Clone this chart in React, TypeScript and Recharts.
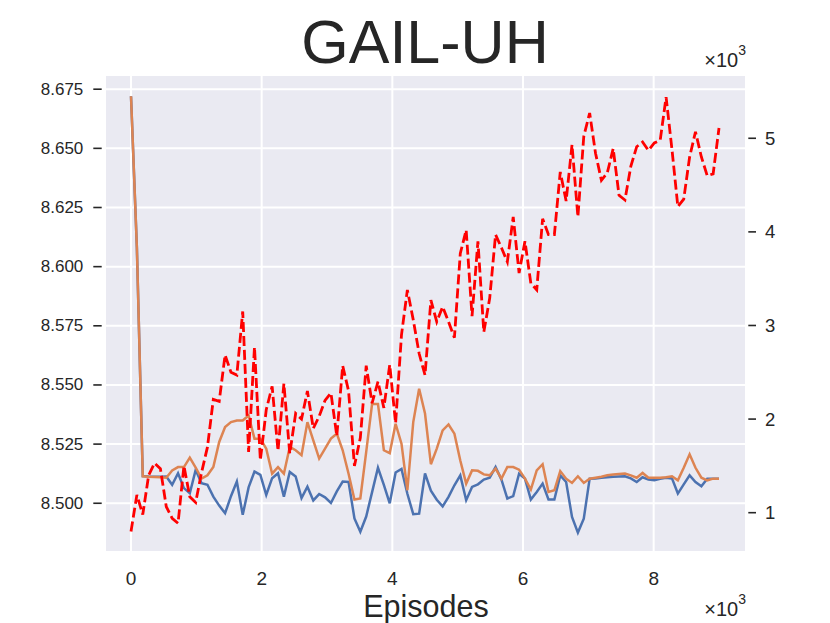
import { LineChart, Line, XAxis, YAxis, CartesianGrid } from 'recharts';

const episodes = [
  0, 90, 180, 270, 360, 450, 540, 630, 720, 810,
  900, 990, 1080, 1170, 1260, 1350, 1440, 1530, 1620, 1710,
  1800, 1890, 1980, 2070, 2160, 2250, 2340, 2430, 2520, 2610,
  2700, 2790, 2880, 2970, 3060, 3150, 3240, 3330, 3420, 3510,
  3600, 3690, 3780, 3870, 3960, 4050, 4140, 4230, 4320, 4410,
  4500, 4590, 4680, 4770, 4860, 4950, 5040, 5130, 5220, 5310,
  5400, 5490, 5580, 5670, 5760, 5850, 5940, 6030, 6120, 6210,
  6300, 6390, 6480, 6570, 6660, 6750, 6840, 6930, 7020, 7110,
  7200, 7290, 7380, 7470, 7560, 7650, 7740, 7830, 7920, 8010,
  8100, 8190, 8280, 8370, 8460, 8550, 8640, 8730, 8820, 8910,
  9000,
];

// left axis
const blueLoss = [
  8.672, 8.608, 8.5115, 8.5113, 8.5112, 8.5112, 8.5113, 8.5078, 8.5127, 8.5064,
  8.5042, 8.5141, 8.5085, 8.5078, 8.5028, 8.499, 8.4958, 8.503, 8.5092, 8.4951,
  8.5067, 8.5134, 8.512, 8.5035, 8.5106, 8.5127, 8.5028, 8.5132, 8.5113, 8.5022,
  8.507, 8.5012, 8.5039, 8.5025, 8.5001, 8.505, 8.5092, 8.509, 8.4936, 8.488,
  8.4944, 8.5047, 8.515, 8.5078, 8.5, 8.513, 8.5145, 8.504, 8.4954, 8.4956,
  8.5126, 8.5053, 8.5015, 8.4987, 8.5027, 8.5076, 8.5118, 8.5013, 8.5069, 8.508,
  8.51, 8.5108, 8.5153, 8.51, 8.502, 8.503, 8.5125, 8.5104, 8.5016, 8.5048,
  8.5083, 8.5016, 8.5016, 8.5118, 8.509, 8.4942, 8.4876, 8.4935, 8.5104, 8.5105,
  8.5108, 8.511, 8.5112, 8.5113, 8.5114, 8.5105, 8.509, 8.511, 8.51, 8.5097,
  8.5103, 8.5108, 8.5105, 8.5041, 8.508, 8.5118, 8.509, 8.5072, 8.5104, 8.5104,
  8.5104,
];

const orangeLoss = [
  8.672, 8.608, 8.5114, 8.5112, 8.5111, 8.511, 8.5108, 8.5139, 8.5153, 8.5153,
  8.5193, 8.5151, 8.5104, 8.5118, 8.5153, 8.5259, 8.5322, 8.5343, 8.535, 8.535,
  8.5371, 8.5273, 8.5273, 8.5231, 8.5125, 8.5153, 8.5125, 8.5238, 8.5224, 8.5203,
  8.5343, 8.5266, 8.5189, 8.5231, 8.5273, 8.5294, 8.5224, 8.5125, 8.5016, 8.502,
  8.5217, 8.542, 8.542, 8.5224, 8.5212, 8.5336, 8.5252, 8.5055, 8.5343, 8.5484,
  8.5379, 8.5165, 8.5231, 8.5308, 8.5333, 8.5294, 8.5181, 8.5083, 8.5139, 8.5137,
  8.5122, 8.5118, 8.5146, 8.5104, 8.5153, 8.5153, 8.5142, 8.5104, 8.5058, 8.5139,
  8.5165, 8.5048, 8.5055, 8.5136, 8.5104, 8.5086, 8.5114, 8.5086, 8.5104, 8.5108,
  8.5112, 8.5118, 8.5122, 8.5124, 8.5126, 8.5118, 8.5108, 8.5128, 8.5108, 8.5108,
  8.5108, 8.511, 8.5114, 8.5097, 8.515, 8.5207, 8.515, 8.5108, 8.5097, 8.5104,
  8.5104,
];

// right axis, x10^3
const redReturn = [
  0.8, 1.19, 0.98, 1.4, 1.53, 1.47, 1.064, 0.94, 0.887, 1.5,
  1.17, 1.11, 1.43, 1.7, 2.21, 2.19, 2.685, 2.5, 2.47, 3.15,
  1.65, 2.77, 1.56, 2.1, 2.35, 1.66, 2.38, 1.63, 2.06, 2.0,
  2.3, 1.9, 2.03, 2.2, 2.28, 1.82, 2.57, 2.3, 1.5, 1.8,
  2.57, 2.17, 2.4, 2.12, 2.58, 1.955, 2.9, 3.38, 3.06, 2.7,
  2.47, 3.27, 3.04, 3.2, 3.04, 2.87, 3.77, 4.02, 3.1, 3.9,
  2.93, 3.29, 3.97, 3.83, 3.68, 4.16, 3.56, 3.9, 3.45, 3.38,
  4.14, 3.97, 3.97, 4.64, 4.33, 4.93, 4.16, 5.02, 5.27, 4.84,
  4.55, 4.63, 4.89, 4.39, 4.34, 4.7, 4.91, 4.96, 4.87, 4.95,
  4.98, 5.44, 4.88, 4.27, 4.35, 4.8, 5.07, 4.8, 4.6, 4.62,
  5.11,
];

const xTicks = [0, 2000, 4000, 6000, 8000];
const leftTicks = [8.5, 8.525, 8.55, 8.575, 8.6, 8.625, 8.65, 8.675];
const rightTicks = [1, 2, 3, 4, 5];

const data = episodes.map((episode, i) => ({
  episode,
  blue: blueLoss[i],
  orange: orangeLoss[i],
  red: redReturn[i],
}));

const FONT = '"Liberation Sans", Arial, sans-serif';
const INK = '#262626';

const LeftTick = (props: any) => {
  const { x, y, payload } = props;
  return (
    <g>
      <line x1={x - 11.7} x2={x - 3.3} y1={y} y2={y} stroke={INK} strokeWidth={1.6} />
      <text x={x - 21.7} y={y + 5.5} textAnchor="end" fontSize={17} fontFamily={FONT} fill={INK}>
        {payload.value.toFixed(3)}
      </text>
    </g>
  );
};

const RightTick = (props: any) => {
  const { x, y, payload } = props;
  return (
    <g>
      <line x1={x + 2.3} x2={x + 10} y1={y} y2={y} stroke={INK} strokeWidth={1.6} />
      <text x={x + 19} y={y + 6.5} textAnchor="start" fontSize={18.5} fontFamily={FONT} fill={INK}>
        {payload.value}
      </text>
    </g>
  );
};

const BottomTick = (props: any) => {
  const { x, y, payload } = props;
  return (
    <text x={x} y={y + 32.5} textAnchor="middle" fontSize={19} fontFamily={FONT} fill={INK}>
      {payload.value / 1000}
    </text>
  );
};

export default function App() {
  return (
    <div style={{ position: 'absolute', left: 0, top: 0, width: 830, height: 623, background: '#fff' }}>
      <LineChart width={830} height={623} data={data} margin={{ top: 75, right: 0, bottom: 0, left: 0 }}>
        <CartesianGrid yAxisId="left" fill="#EAEAF2" stroke="#ffffff" strokeWidth={2} />
        <XAxis
          dataKey="episode"
          type="number"
          domain={[-398, 9413]}
          ticks={xTicks}
          interval={0}
          allowDataOverflow
          axisLine={false}
          tickLine={false}
          tickSize={0}
          tickMargin={0}
          height={71}
          tick={BottomTick}
        />
        <YAxis
          yAxisId="left"
          width={105}
          domain={[8.4794, 8.681]}
          ticks={leftTicks}
          interval={0}
          allowDataOverflow
          axisLine={false}
          tickLine={false}
          tickSize={0}
          tickMargin={0}
          tick={LeftTick}
        />
        <YAxis
          yAxisId="right"
          orientation="right"
          width={84}
          domain={[0.58, 5.676]}
          ticks={rightTicks}
          interval={0}
          allowDataOverflow
          axisLine={false}
          tickLine={false}
          tickSize={0}
          tickMargin={0}
          tick={RightTick}
        />
        <Line yAxisId="left" type="linear" dataKey="blue" stroke="#4C72B0" strokeWidth={2.5} dot={false} isAnimationActive={false} />
        <Line yAxisId="left" type="linear" dataKey="orange" stroke="#DD8452" strokeWidth={2.5} dot={false} isAnimationActive={false} />
        <Line yAxisId="right" type="linear" dataKey="red" stroke="#FF0000" strokeWidth={2.8} strokeDasharray="10 4" dot={false} isAnimationActive={false} />
      </LineChart>
      <svg width={830} height={623} style={{ position: 'absolute', left: 0, top: 0, pointerEvents: 'none' }}>
        <text x={425} y={63} textAnchor="middle" fontSize={61} fontFamily={FONT} fill={INK}>GAIL-UH</text>
        <text x={746} y={67} textAnchor="end" fontSize={20} fontFamily={FONT} fill={INK}>
          ×10<tspan fontSize={14} dy={-12}>3</tspan>
        </text>
        <text x={746} y={616} textAnchor="end" fontSize={20} fontFamily={FONT} fill={INK}>
          ×10<tspan fontSize={14} dy={-12}>3</tspan>
        </text>
        <text x={426} y={616.5} textAnchor="middle" fontSize={30.5} fontFamily={FONT} fill={INK}>Episodes</text>
      </svg>
    </div>
  );
}
